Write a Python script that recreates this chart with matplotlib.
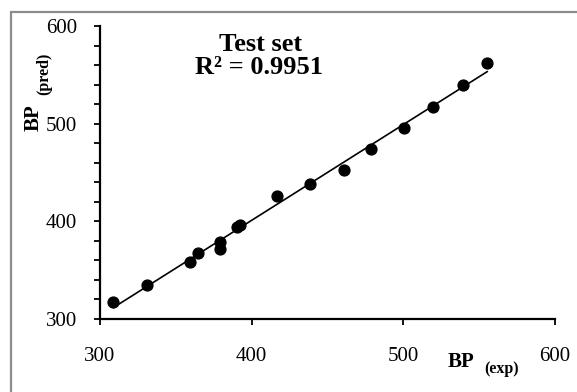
import numpy as np
import matplotlib
matplotlib.use('Agg')
import matplotlib.pyplot as plt
from matplotlib.patches import Rectangle
from matplotlib.ticker import MultipleLocator

plt.rcParams['font.family'] = ['Liberation Serif', 'DejaVu Serif']

# test set values
bp_exp = [308.8, 331.2, 359.3, 364.8, 379.1, 379.1, 390.5, 392.3,
          416.5, 438.4, 460.8, 478.8, 500.4, 519.7, 539.1, 555.3]
bp_pred = [317.1, 334.8, 358.0, 367.9, 371.3, 379.1, 393.9, 396.2,
           425.9, 438.2, 452.5, 474.3, 495.5, 516.7, 539.5, 561.7]
r2_text = 'R\u00b2 = 0.9951'

W, H = 577, 392
fig = plt.figure(figsize=(W / 100, H / 100), dpi=100)
ax = fig.add_axes([100 / W, 1 - 319 / H, 455 / W, 293 / H])

x = np.array(bp_exp)
y = np.array(bp_pred)
a, b = np.polyfit(x, y, 1)
xl = np.array([x.min(), x.max()])
ax.plot(xl, a * xl + b, color='black', lw=1.2, zorder=2)
ax.plot(x, y, 'o', color='black', ms=7.8, zorder=3)

ax.set_xlim(300, 600)
ax.set_ylim(300, 600)
ax.xaxis.set_major_locator(MultipleLocator(100))
ax.yaxis.set_major_locator(MultipleLocator(100))
ax.yaxis.set_minor_locator(MultipleLocator(20))
for s in ['top', 'right']:
    ax.spines[s].set_visible(False)
for s in ['left', 'bottom']:
    ax.spines[s].set_linewidth(1.6)
ax.tick_params(axis='x', which='major', direction='out', length=4.5, width=1.3,
               pad=16, labelsize=15)
ax.tick_params(axis='y', which='both', direction='out', length=4.5, width=1.3,
               pad=12, labelsize=15)

# chart annotations
fig.text(261 / W, 1 - 51 / H, 'Test set', ha='center', va='baseline',
         fontsize=19, fontweight='bold')
fig.text(259 / W, 1 - 74 / H, r2_text, ha='center', va='baseline',
         fontsize=19, fontweight='bold')

# axis labels with subscripts
fig.text(448 / W, 1 - 367 / H, 'BP', ha='left', va='baseline',
         fontsize=15, fontweight='bold')
fig.text(484 / W, 1 - 373 / H, '(exp)', ha='left', va='baseline',
         fontsize=11.5, fontweight='bold')
fig.text(34 / W, 1 - 131 / H, 'BP', ha='center', va='bottom', rotation=90,
         fontsize=15, fontweight='bold')
fig.text(44 / W, 1 - 95 / H, '(pred)', ha='center', va='bottom', rotation=90,
         fontsize=11.5, fontweight='bold')

# grey frame around the chart area
fig.patches.append(Rectangle((11 / W, -0.1), 1.2, 1 - 12 / H + 0.1,
                             transform=fig.transFigure, fill=False,
                             edgecolor='#8c8c8c', lw=1.6))

fig.savefig('out.png', dpi=100)
